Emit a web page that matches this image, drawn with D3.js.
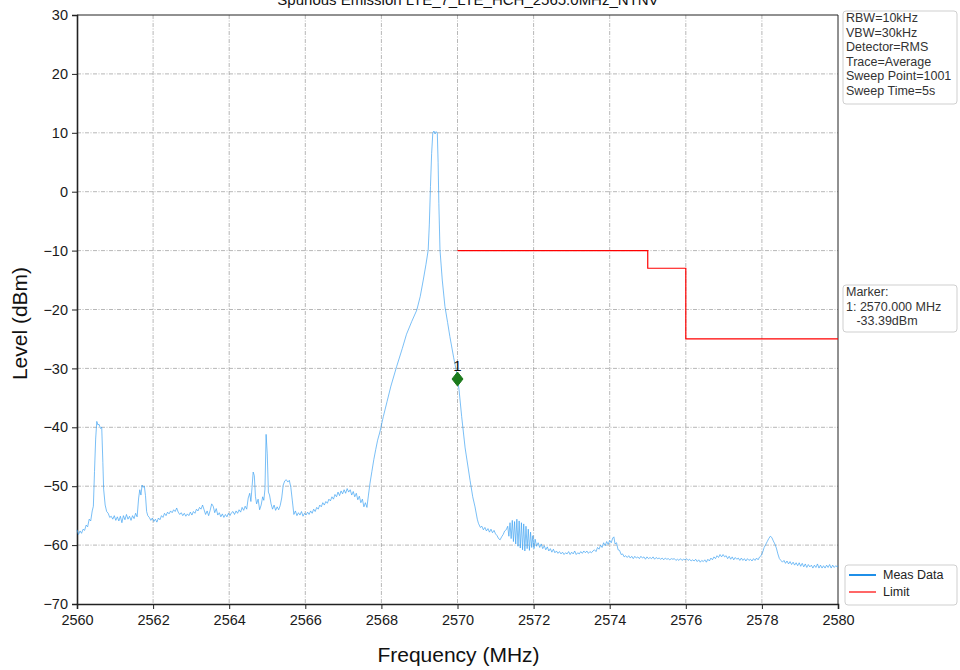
<!DOCTYPE html>
<meta charset="utf-8">
<script src="https://d3js.org/d3.v7.min.js"></script>
<style>
  body { margin: 0; background: #fff; }
  text { font-family: "Liberation Sans", Arial, sans-serif; }
</style>
<div id="chart"></div>
<script>

var titleText = "Spurious Emission LTE_7_LTE_HCH_2565.0MHz_NTNV";
var xTicks = [2560, 2562, 2564, 2566, 2568, 2570, 2572, 2574, 2576, 2578, 2580];
var yTicks = [30, 20, 10, 0, -10, -20, -30, -40, -50, -60, -70];
var infoLines = ["RBW=10kHz", "VBW=30kHz", "Detector=RMS", "Trace=Average", "Sweep Point=1001", "Sweep Time=5s"];
var markerLines = ["Marker:", "1: 2570.000 MHz", "   -33.39dBm"];
var markerPoint = [2570.0, -31.8];
var legendItems = ["Meas Data", "Limit"];

// limit mask [freq, level]
var limitLine = [[2570, -10], [2575, -10], [2575, -13], [2576, -13], [2576, -25], [2580, -25]];

var trace = [
[2560.00,-57.4],[2560.04,-58.2],[2560.08,-57.6],[2560.12,-58.0],[2560.16,-57.3],[2560.20,-57.5],[2560.24,-56.6],[2560.28,-56.9],
[2560.32,-55.6],[2560.36,-55.9],[2560.40,-54.2],[2560.43,-53.4],[2560.46,-47.5],[2560.49,-42.0],[2560.52,-39.0],[2560.55,-39.6],
[2560.58,-39.5],[2560.62,-40.2],[2560.65,-40.0],[2560.68,-46.0],[2560.70,-50.5],[2560.74,-53.2],[2560.78,-54.3],[2560.82,-54.6],
[2560.86,-55.3],[2560.90,-55.1],[2560.94,-55.6],[2560.98,-55.0],[2561.02,-55.8],[2561.06,-55.2],[2561.10,-55.9],[2561.14,-55.1],
[2561.18,-56.2],[2561.22,-55.0],[2561.26,-55.7],[2561.30,-54.8],[2561.34,-55.6],[2561.38,-55.1],[2561.42,-55.8],[2561.46,-55.0],
[2561.50,-55.5],[2561.54,-54.6],[2561.58,-55.2],[2561.62,-52.0],[2561.65,-50.6],[2561.68,-51.5],[2561.71,-49.8],[2561.74,-50.2],
[2561.77,-50.0],[2561.80,-51.6],[2561.83,-54.3],[2561.86,-55.0],[2561.90,-55.3],[2561.94,-55.8],[2561.98,-55.4],[2562.02,-56.0],
[2562.06,-55.6],[2562.10,-56.1],[2562.14,-55.4],[2562.18,-55.7],[2562.22,-55.0],[2562.26,-55.3],[2562.30,-54.6],[2562.34,-55.0],
[2562.38,-54.4],[2562.42,-54.7],[2562.46,-54.2],[2562.50,-54.5],[2562.54,-54.0],[2562.58,-54.3],[2562.62,-53.7],[2562.66,-54.4],
[2562.70,-54.8],[2562.74,-54.5],[2562.78,-55.0],[2562.82,-54.6],[2562.86,-55.1],[2562.90,-54.7],[2562.94,-55.0],[2562.98,-54.4],
[2563.02,-54.9],[2563.06,-54.3],[2563.10,-54.6],[2563.14,-53.9],[2563.18,-54.2],[2563.22,-53.6],[2563.26,-53.9],[2563.30,-53.2],
[2563.34,-54.0],[2563.38,-54.8],[2563.42,-54.2],[2563.46,-55.0],[2563.50,-54.1],[2563.54,-53.0],[2563.58,-53.4],[2563.62,-54.5],
[2563.66,-53.8],[2563.70,-54.9],[2563.74,-54.5],[2563.78,-55.2],[2563.82,-54.7],[2563.86,-55.3],[2563.90,-54.8],[2563.94,-55.2],
[2563.98,-54.6],[2564.02,-55.0],[2564.06,-54.5],[2564.10,-54.3],[2564.14,-54.8],[2564.18,-54.2],[2564.22,-54.6],[2564.26,-54.0],
[2564.30,-54.4],[2564.34,-53.6],[2564.38,-54.1],[2564.42,-53.4],[2564.46,-53.9],[2564.50,-52.0],[2564.54,-51.2],[2564.57,-52.6],
[2564.60,-50.2],[2564.63,-47.6],[2564.66,-48.2],[2564.69,-51.8],[2564.72,-53.0],[2564.76,-52.2],[2564.80,-54.0],[2564.84,-53.2],
[2564.88,-51.8],[2564.91,-52.4],[2564.94,-50.5],[2564.97,-41.2],[2565.00,-44.5],[2565.03,-51.0],[2565.06,-51.5],[2565.10,-53.0],
[2565.14,-53.9],[2565.18,-53.2],[2565.22,-54.1],[2565.26,-53.5],[2565.30,-54.0],[2565.34,-53.3],[2565.38,-52.0],[2565.42,-49.8],
[2565.46,-49.1],[2565.50,-48.9],[2565.54,-49.3],[2565.58,-49.0],[2565.62,-50.2],[2565.66,-52.5],[2565.70,-54.8],[2565.74,-54.2],
[2565.78,-55.0],[2565.82,-54.5],[2565.86,-54.9],[2565.90,-54.3],[2565.94,-55.1],[2565.98,-54.6],[2566.02,-54.9],[2566.06,-54.4],
[2566.10,-54.8],[2566.14,-54.2],[2566.18,-54.6],[2566.22,-53.9],[2566.26,-54.3],[2566.30,-53.6],[2566.34,-53.9],[2566.38,-53.2],
[2566.42,-53.5],[2566.46,-52.8],[2566.50,-53.2],[2566.54,-52.6],[2566.58,-52.9],[2566.62,-52.2],[2566.66,-52.5],[2566.70,-51.8],
[2566.74,-52.2],[2566.78,-51.4],[2566.82,-51.8],[2566.86,-51.0],[2566.90,-51.6],[2566.94,-50.8],[2566.98,-51.3],[2567.02,-50.6],
[2567.06,-51.2],[2567.10,-50.4],[2567.14,-51.0],[2567.18,-50.6],[2567.22,-51.5],[2567.26,-50.9],[2567.30,-51.8],[2567.34,-51.2],
[2567.38,-52.3],[2567.42,-51.7],[2567.46,-52.8],[2567.50,-52.2],[2567.54,-53.5],[2567.58,-52.8],[2567.62,-53.6],[2567.66,-51.5],
[2567.70,-49.5],[2567.75,-47.5],[2567.80,-45.5],[2567.85,-43.8],[2567.90,-42.2],[2567.96,-40.8],[2568.05,-38.2],[2568.15,-35.6],
[2568.25,-33.0],[2568.40,-29.7],[2568.55,-26.6],[2568.66,-24.2],[2568.80,-22.0],[2568.93,-20.1],[2569.02,-17.8],[2569.10,-15.0],
[2569.17,-12.4],[2569.23,-9.9],[2569.26,-5.5],[2569.29,0.9],[2569.32,6.5],[2569.35,9.9],[2569.38,10.3],[2569.41,9.8],
[2569.44,10.2],[2569.47,9.9],[2569.49,5.0],[2569.51,-2.0],[2569.54,-9.9],[2569.60,-15.0],[2569.67,-19.5],[2569.74,-22.2],
[2569.80,-24.6],[2569.90,-28.2],[2569.98,-30.8],[2570.00,-31.8],[2570.04,-33.6],[2570.11,-38.2],[2570.20,-43.5],[2570.33,-49.0],
[2570.40,-51.8],[2570.46,-53.5],[2570.52,-55.6],[2570.55,-56.3],[2570.60,-57.0],[2570.64,-56.8],[2570.68,-57.4],[2570.72,-57.0],
[2570.76,-57.6],[2570.80,-57.2],[2570.84,-57.8],[2570.88,-57.3],[2570.92,-57.9],[2570.96,-57.5],[2571.00,-58.1],[2571.04,-58.4],
[2571.08,-58.9],[2571.12,-59.1],[2571.16,-58.6],[2571.20,-58.2],[2571.24,-57.6],[2571.28,-57.4],[2571.32,-56.8],[2571.35,-58.5],
[2571.38,-56.2],[2571.41,-58.9],[2571.44,-55.8],[2571.47,-59.4],[2571.50,-56.0],[2571.53,-59.8],[2571.56,-55.6],[2571.59,-60.2],
[2571.62,-55.9],[2571.65,-60.5],[2571.68,-56.2],[2571.71,-60.8],[2571.74,-56.4],[2571.77,-61.0],[2571.80,-56.8],[2571.83,-60.6],
[2571.86,-57.3],[2571.89,-60.9],[2571.92,-57.8],[2571.95,-60.4],[2571.98,-58.4],[2572.01,-60.6],[2572.04,-59.0],[2572.08,-60.2],
[2572.12,-59.6],[2572.16,-60.4],[2572.20,-59.8],[2572.24,-60.6],[2572.28,-60.1],[2572.32,-60.8],[2572.36,-60.3],[2572.40,-61.0],
[2572.44,-60.6],[2572.48,-61.2],[2572.52,-60.7],[2572.56,-61.3],[2572.60,-61.0],[2572.64,-61.4],[2572.68,-61.1],[2572.72,-61.5],
[2572.76,-61.2],[2572.80,-61.6],[2572.84,-61.3],[2572.88,-61.5],[2572.92,-61.1],[2572.96,-61.6],[2573.00,-61.2],[2573.04,-61.5],
[2573.08,-61.0],[2573.12,-61.6],[2573.16,-61.3],[2573.20,-61.5],[2573.24,-61.1],[2573.28,-61.4],[2573.32,-61.0],[2573.36,-61.3],
[2573.40,-61.0],[2573.44,-61.4],[2573.48,-61.1],[2573.52,-61.3],[2573.56,-61.0],[2573.60,-60.8],[2573.64,-61.1],[2573.68,-60.4],
[2573.72,-60.7],[2573.76,-60.0],[2573.80,-60.4],[2573.84,-59.6],[2573.88,-60.1],[2573.92,-59.4],[2573.96,-59.9],[2574.00,-59.2],
[2574.04,-59.6],[2574.08,-58.8],[2574.11,-58.6],[2574.14,-59.8],[2574.18,-59.6],[2574.22,-60.8],[2574.26,-60.9],[2574.30,-61.6],
[2574.34,-61.5],[2574.38,-62.0],[2574.42,-61.8],[2574.46,-62.1],[2574.50,-61.8],[2574.54,-62.2],[2574.58,-61.9],[2574.62,-62.3],
[2574.66,-61.9],[2574.70,-62.2],[2574.74,-62.0],[2574.78,-62.3],[2574.82,-61.9],[2574.86,-62.2],[2574.90,-62.0],[2574.94,-62.4],
[2574.98,-62.0],[2575.02,-62.3],[2575.06,-62.1],[2575.10,-62.3],[2575.14,-62.0],[2575.18,-62.4],[2575.22,-62.1],[2575.26,-62.3],
[2575.30,-62.2],[2575.34,-62.4],[2575.38,-62.2],[2575.42,-62.5],[2575.46,-62.2],[2575.50,-62.4],[2575.54,-62.3],[2575.58,-62.5],
[2575.62,-62.3],[2575.66,-62.4],[2575.70,-62.3],[2575.74,-62.6],[2575.78,-62.4],[2575.82,-62.6],[2575.86,-62.3],[2575.90,-62.6],
[2575.94,-62.4],[2575.98,-62.5],[2576.02,-62.3],[2576.06,-62.6],[2576.10,-62.4],[2576.14,-62.7],[2576.18,-62.5],[2576.22,-62.7],
[2576.26,-62.4],[2576.30,-62.8],[2576.34,-62.5],[2576.38,-62.9],[2576.42,-62.6],[2576.46,-62.8],[2576.50,-62.5],[2576.54,-62.9],
[2576.58,-62.4],[2576.62,-62.7],[2576.66,-62.2],[2576.70,-62.5],[2576.74,-62.0],[2576.78,-62.3],[2576.82,-61.8],[2576.86,-62.1],
[2576.90,-61.6],[2576.94,-62.0],[2576.98,-61.6],[2577.02,-62.0],[2577.06,-61.8],[2577.10,-62.3],[2577.14,-61.9],[2577.18,-62.4],
[2577.22,-62.0],[2577.26,-62.5],[2577.30,-62.1],[2577.34,-62.4],[2577.38,-62.2],[2577.42,-62.6],[2577.46,-62.2],[2577.50,-62.6],
[2577.54,-62.3],[2577.58,-62.7],[2577.62,-62.3],[2577.66,-62.6],[2577.70,-62.4],[2577.74,-62.7],[2577.78,-62.3],[2577.82,-62.6],
[2577.86,-62.2],[2577.90,-62.5],[2577.94,-62.0],[2577.98,-61.8],[2578.02,-61.2],[2578.06,-60.4],[2578.10,-59.9],[2578.14,-59.4],
[2578.18,-58.9],[2578.22,-58.5],[2578.26,-58.7],[2578.30,-59.3],[2578.34,-59.8],[2578.38,-60.5],[2578.42,-61.5],[2578.46,-62.3],
[2578.50,-62.6],[2578.54,-62.9],[2578.58,-62.6],[2578.62,-63.1],[2578.66,-62.7],[2578.70,-63.2],[2578.74,-62.8],[2578.78,-63.3],
[2578.82,-62.9],[2578.86,-63.4],[2578.90,-63.0],[2578.94,-63.5],[2578.98,-63.0],[2579.02,-63.6],[2579.06,-63.1],[2579.10,-63.7],
[2579.14,-63.2],[2579.18,-63.8],[2579.22,-63.3],[2579.26,-63.7],[2579.30,-63.4],[2579.34,-63.9],[2579.38,-63.4],[2579.42,-63.8],
[2579.46,-63.2],[2579.50,-63.9],[2579.54,-63.4],[2579.58,-63.9],[2579.62,-63.5],[2579.66,-63.9],[2579.70,-63.4],[2579.74,-63.8],
[2579.78,-63.3],[2579.82,-63.9],[2579.86,-63.4],[2579.90,-63.8],[2579.94,-63.5],[2579.98,-63.7],[2580.00,-63.5]
];

var width = 960, height = 670;
var margin = {top: 15, right: 122, bottom: 66, left: 77};
var w = width - margin.left - margin.right,
    h = height - margin.top - margin.bottom;

var svg = d3.select("#chart").append("svg").attr("width", width).attr("height", height);
var g = svg.append("g").attr("transform", "translate(" + margin.left + "," + margin.top + ")");

var x = d3.scaleLinear().domain([2560, 2580]).range([0, w]);
var y = d3.scaleLinear().domain([-70, 30]).range([h, 0]);

// grid (dash-dot, light gray)
var gridDash = "4,1.5,1,1.5";
g.append("g").selectAll("line").data(xTicks.slice(1, -1)).enter().append("line")
  .attr("x1", function(d) { return x(d); }).attr("x2", function(d) { return x(d); })
  .attr("y1", 0).attr("y2", h)
  .style("stroke", "#a4a4a4").style("stroke-width", 0.8).style("stroke-dasharray", gridDash);
g.append("g").selectAll("line").data(yTicks.slice(1, -1)).enter().append("line")
  .attr("y1", function(d) { return y(d); }).attr("y2", function(d) { return y(d); })
  .attr("x1", 0).attr("x2", w)
  .style("stroke", "#a4a4a4").style("stroke-width", 0.8).style("stroke-dasharray", gridDash);

// frame top/right
g.append("line").attr("x1", 0).attr("x2", w).attr("y1", 0).attr("y2", 0).style("stroke", "#222").style("stroke-width", 1);
g.append("line").attr("x1", w).attr("x2", w).attr("y1", 0).attr("y2", h).style("stroke", "#222").style("stroke-width", 1);

// axes
var xAxis = g.append("g").attr("transform", "translate(0," + h + ")")
  .call(d3.axisBottom(x).tickValues(xTicks).tickFormat(d3.format("d")).tickSizeOuter(0).tickSize(5).tickPadding(6));
var yAxis = g.append("g")
  .call(d3.axisLeft(y).tickValues(yTicks).tickFormat(function(d) { return d < 0 ? "\u2212" + Math.abs(d) : d; }).tickSizeOuter(0).tickSize(5).tickPadding(4));
[xAxis, yAxis].forEach(function(a) {
  a.select(".domain").style("stroke", "#222").style("stroke-width", 1.6);
  a.selectAll(".tick line").style("stroke", "#222").style("stroke-width", 1);
  a.selectAll(".tick text").style("font-family", "Liberation Sans, Arial, sans-serif").style("font-size", "14.5px").style("fill", "#1a1a1a");
});

// trace
var line = d3.line().x(function(d) { return x(d[0]); }).y(function(d) { return y(d[1]); });
g.append("path").datum(trace).attr("d", line)
  .style("fill", "none").style("stroke", "#3aa0f2").style("stroke-opacity", 0.8).style("stroke-width", 0.85);

// limit
g.append("path").datum(limitLine).attr("d", line)
  .style("fill", "none").style("stroke", "#ff0000").style("stroke-width", 1.2);

// marker
var mx = x(markerPoint[0]), my = y(markerPoint[1]);
g.append("path").attr("d", "M" + mx + "," + (my - 7) + "L" + (mx + 5.5) + "," + my + "L" + mx + "," + (my + 7) + "L" + (mx - 5.5) + "," + my + "Z")
  .style("fill", "#1b7a1b").style("stroke", "#1b7a1b").style("stroke-width", 1);
g.append("text").attr("x", mx).attr("y", my - 8).attr("text-anchor", "middle")
  .style("font-size", "15px").style("fill", "#111").text("1");

// title (cut at the top edge as in the source image)
svg.append("text").attr("x", 468).attr("y", 5).attr("text-anchor", "middle")
  .style("font-size", "15px").style("fill", "#111").text(titleText);

// axis labels
svg.append("text").attr("x", margin.left + w / 2 + 1).attr("y", 662).attr("text-anchor", "middle")
  .style("font-size", "21px").style("fill", "#111").text("Frequency (MHz)");
svg.append("text").attr("transform", "translate(27," + (margin.top + h / 2 + 14) + ") rotate(-90)").attr("text-anchor", "middle")
  .style("font-size", "21px").style("fill", "#111").text("Level (dBm)");

// info boxes
function textBox(x0, y0, bw, bh, lines) {
  svg.append("rect").attr("x", x0).attr("y", y0).attr("width", bw).attr("height", bh).attr("rx", 3)
    .style("fill", "#fff").style("stroke", "#cfcfcf").style("stroke-width", 1);
  svg.append("g").selectAll("text").data(lines).enter().append("text")
    .attr("x", x0 + 3).attr("y", function(d, i) { return y0 + 11 + i * 14.6; })
    .style("font-size", "12.5px").style("fill", "#333").style("white-space", "pre")
    .attr("xml:space", "preserve")
    .text(function(d) { return d; });
}
textBox(843, 11, 114, 93, infoLines);
textBox(843, 285, 114, 47, markerLines);

// legend
var lg = svg.append("g");
lg.append("rect").attr("x", 845).attr("y", 565).attr("width", 112).attr("height", 40).attr("rx", 3)
  .style("fill", "#fff").style("stroke", "#cfcfcf");
var legendColors = ["#1f8fe8", "#ff0000"];
var legendWidths = [2, 1.2];
legendItems.forEach(function(name, i) {
  var yy = 575 + i * 17;
  lg.append("line").attr("x1", 849).attr("x2", 876).attr("y1", yy).attr("y2", yy)
    .style("stroke", legendColors[i]).style("stroke-width", legendWidths[i]);
  lg.append("text").attr("x", 883).attr("y", yy + 4).style("font-size", "12.5px").style("fill", "#222").text(name);
});

</script>
